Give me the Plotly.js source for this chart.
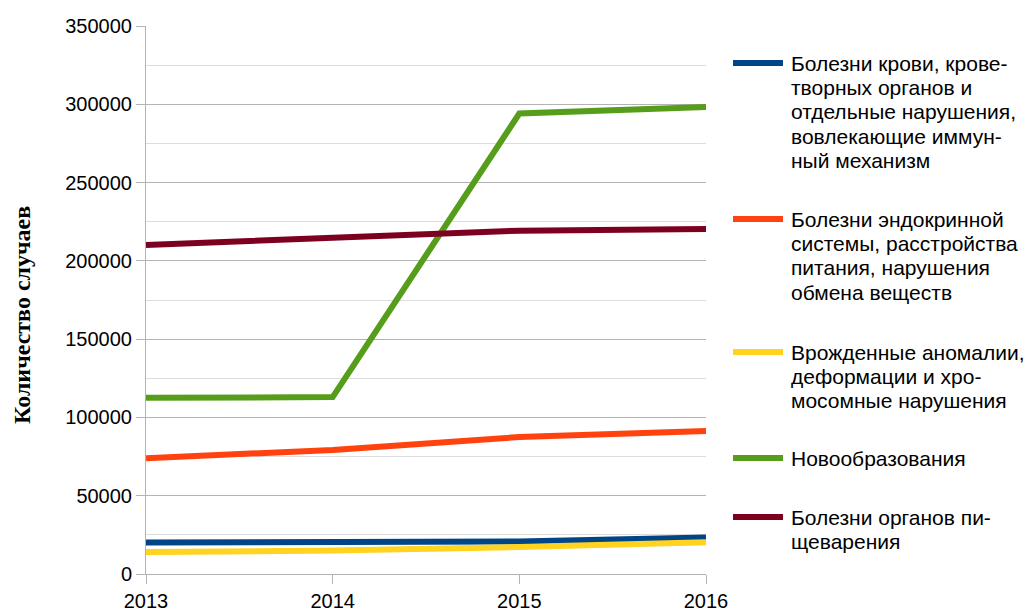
<!DOCTYPE html>
<html><head><meta charset="utf-8">
<script src="https://cdn.plot.ly/plotly-3.0.1.min.js"></script>
<style>html,body{margin:0;padding:0;background:#fff}#chart{width:1026px;height:612px}</style>
</head><body><div id="chart"></div>
<script>
const years = [2013, 2014, 2015, 2016];
const names = [
  "Болезни крови, крове-<br>творных органов и<br>отдельные нарушения,<br>вовлекающие иммун-<br>ный механизм",
  "Болезни эндокринной<br>системы, расстройства<br>питания, нарушения<br>обмена веществ",
  "Врожденные аномалии,<br>деформации и хро-<br>мосомные нарушения",
  "Новообразования",
  "Болезни органов пи-<br>щеварения"
];
const blood = [20100, 20700, 20700, 23300];
const endocrine = [74000, 79200, 87500, 91300];
const congenital = [14000, 15000, 17200, 20300];
const neoplasms = [112500, 113000, 294100, 298300];
const digestive = [210200, 214600, 219300, 220300];
const colors = ["#004586", "#ff420e", "#ffd320", "#579d1c", "#7e0021"];
const series = [blood, endocrine, congenital, neoplasms, digestive];

const traces = series.map((v, i) => ({
  x: years, y: v, name: names[i], type: "scatter", mode: "lines",
  line: {color: colors[i], width: 6}, showlegend: false
}));

// plot area in pixels
const L = 146, R = 706, T = 26, B = 574;
const px = x => (x - L) / (R - L);
const py = y => (B - y) / (B - T);

// manual legend (LibreOffice-like tight line spacing)
const legendTop = [63, 219, 352, 458, 517];
const lineStep = 24.4;
const annotations = [];
const shapes = [];
names.forEach((n, i) => {
  shapes.push({type: "line", xref: "paper", yref: "paper",
    x0: px(733), x1: px(783), y0: py(legendTop[i]), y1: py(legendTop[i]),
    line: {color: colors[i], width: 6}});
  n.split("<br>").forEach((ln, j) => {
    annotations.push({xref: "paper", yref: "paper", x: px(789), y: py(legendTop[i] + j * lineStep),
      xanchor: "left", yanchor: "middle", text: ln, showarrow: false,
      font: {family: "Liberation Sans, Arial, sans-serif", size: 21, color: "#000"}});
  });
});
annotations.push({xref: "paper", yref: "paper", x: px(22), y: py(315), textangle: -90,
  xanchor: "center", yanchor: "middle", showarrow: false,
  text: "<b>Количество случаев</b>",
  font: {family: "Liberation Serif, Times New Roman, serif", size: 24, color: "#000"}});

const layout = {
  width: 1026, height: 612,
  margin: {l: L, r: 1026 - R, t: T, b: 612 - B},
  paper_bgcolor: "#fff", plot_bgcolor: "#fff",
  font: {family: "Liberation Sans, Arial, sans-serif", size: 20, color: "#000"},
  xaxis: {
    range: [2013, 2016], tickvals: years, ticktext: years.map(String),
    showgrid: false, zeroline: false, showline: true, linecolor: "#b3b3b3", linewidth: 1,
    ticks: "outside", ticklen: 9, tickcolor: "#b3b3b3", tickfont: {size: 20}, automargin: false
  },
  yaxis: {
    range: [0, 350000], dtick: 50000, tickformat: "d",
    showgrid: true, gridcolor: "#b3b3b3", gridwidth: 1,
    minor: {dtick: 25000, showgrid: true, gridcolor: "#dddddd", ticks: ""},
    zeroline: false, showline: true, linecolor: "#b3b3b3", linewidth: 1,
    ticks: "outside", ticklen: 9, tickcolor: "#b3b3b3", tickfont: {size: 20},
    automargin: false
  },
  showlegend: false,
  annotations: annotations,
  shapes: shapes
};
Plotly.newPlot("chart", traces, layout, {displayModeBar: false, staticPlot: true});
</script></body></html>
